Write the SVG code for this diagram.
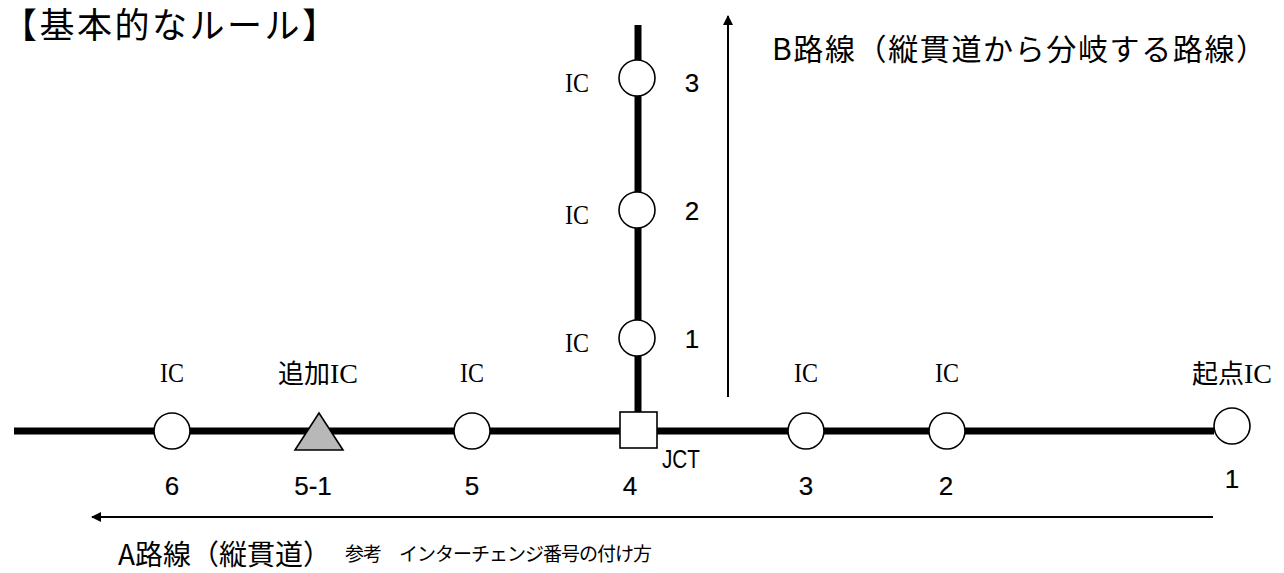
<svg xmlns="http://www.w3.org/2000/svg" width="1284" height="573" viewBox="0 0 1284 573">
<defs>
<style>
.road{stroke:#000;stroke-width:7;fill:none}
.thin{stroke:#000;stroke-width:2;fill:none}
.ic{fill:#fff;stroke:#000;stroke-width:1.6}
.lbl{font-family:"Liberation Serif",serif;font-size:28px;fill:#000}
.num{font-family:"Liberation Sans",sans-serif;font-size:26px;fill:#000;stroke:#000;stroke-width:0.2}
.jp{font-family:"Noto Sans CJK JP",sans-serif;fill:#000}
</style>
<marker id="ah" viewBox="0 0 10 10" refX="9" refY="5" markerWidth="5" markerHeight="5" orient="auto" markerUnits="strokeWidth"><path d="M0,0 L10,5 L0,10 z" fill="#000"/></marker>
</defs>
<rect width="1284" height="573" fill="#fff"/>
<text class="jp" x="2" y="38" font-size="35" letter-spacing="2.5">【基本的なルール】</text>
<g id="connectors">
<line class="road" x1="14" y1="431" x2="1214" y2="431"/>
<line class="road" x1="638" y1="25" x2="638" y2="412"/>
<line class="thin" x1="728" y1="397" x2="728" y2="16" marker-end="url(#ah)"/>
<line class="thin" x1="1213" y1="517" x2="92" y2="517" marker-end="url(#ah)"/>
</g>
<g id="ic6"><circle class="ic" cx="172" cy="431" r="18"/><text class="lbl" x="172" y="382" text-anchor="middle" textLength="24" lengthAdjust="spacingAndGlyphs">IC</text><text class="num" x="172" y="495" text-anchor="middle">6</text></g>
<g id="ic5-1"><polygon points="319,413 295,450 343,450" fill="#b8b8b8" stroke="#000" stroke-width="1.6"/><text x="278" y="383"><tspan class="jp" font-size="26">追加</tspan><tspan class="lbl" textLength="28" lengthAdjust="spacingAndGlyphs">IC</tspan></text><text class="num" x="313" y="495" text-anchor="middle">5-1</text></g>
<g id="ic5"><circle class="ic" cx="472" cy="431" r="18"/><text class="lbl" x="472" y="382" text-anchor="middle" textLength="24" lengthAdjust="spacingAndGlyphs">IC</text><text class="num" x="472" y="495" text-anchor="middle">5</text></g>
<g id="jct"><rect x="620" y="412" width="37" height="36" fill="#fff" stroke="#000" stroke-width="1.6"/><text x="662" y="468" font-family="Liberation Sans,sans-serif" font-size="25" textLength="38" lengthAdjust="spacingAndGlyphs">JCT</text><text class="num" x="630" y="495" text-anchor="middle">4</text></g>
<g id="ic3"><circle class="ic" cx="806" cy="431" r="18"/><text class="lbl" x="806" y="382" text-anchor="middle" textLength="24" lengthAdjust="spacingAndGlyphs">IC</text><text class="num" x="806" y="495" text-anchor="middle">3</text></g>
<g id="ic2"><circle class="ic" cx="947" cy="431" r="18"/><text class="lbl" x="947" y="382" text-anchor="middle" textLength="24" lengthAdjust="spacingAndGlyphs">IC</text><text class="num" x="946" y="495" text-anchor="middle">2</text></g>
<g id="ic1"><circle class="ic" cx="1232" cy="426" r="18"/><text x="1192" y="383"><tspan class="jp" font-size="26">起点</tspan><tspan class="lbl" textLength="28" lengthAdjust="spacingAndGlyphs">IC</tspan></text><text class="num" x="1232" y="488" text-anchor="middle">1</text></g>
<g id="b1"><circle class="ic" cx="637" cy="338" r="18"/><text class="lbl" x="577" y="352" text-anchor="middle" textLength="24" lengthAdjust="spacingAndGlyphs">IC</text><text class="num" x="692" y="348" text-anchor="middle">1</text></g>
<g id="b2"><circle class="ic" cx="637" cy="210" r="18"/><text class="lbl" x="577" y="224" text-anchor="middle" textLength="24" lengthAdjust="spacingAndGlyphs">IC</text><text class="num" x="692" y="220" text-anchor="middle">2</text></g>
<g id="b3"><circle class="ic" cx="637" cy="78" r="18"/><text class="lbl" x="577" y="92" text-anchor="middle" textLength="24" lengthAdjust="spacingAndGlyphs">IC</text><text class="num" x="692" y="92" text-anchor="middle">3</text></g>
<text class="jp" x="772" y="60" font-size="30" textLength="494" lengthAdjust="spacing">B路線（縦貫道から分岐する路線）</text>
<text class="jp" x="118" y="565" font-size="28">A路線（縦貫道）</text>
<text class="jp" x="345" y="561" font-size="19" textLength="307" lengthAdjust="spacing">参考　インターチェンジ番号の付け方</text>
</svg>
